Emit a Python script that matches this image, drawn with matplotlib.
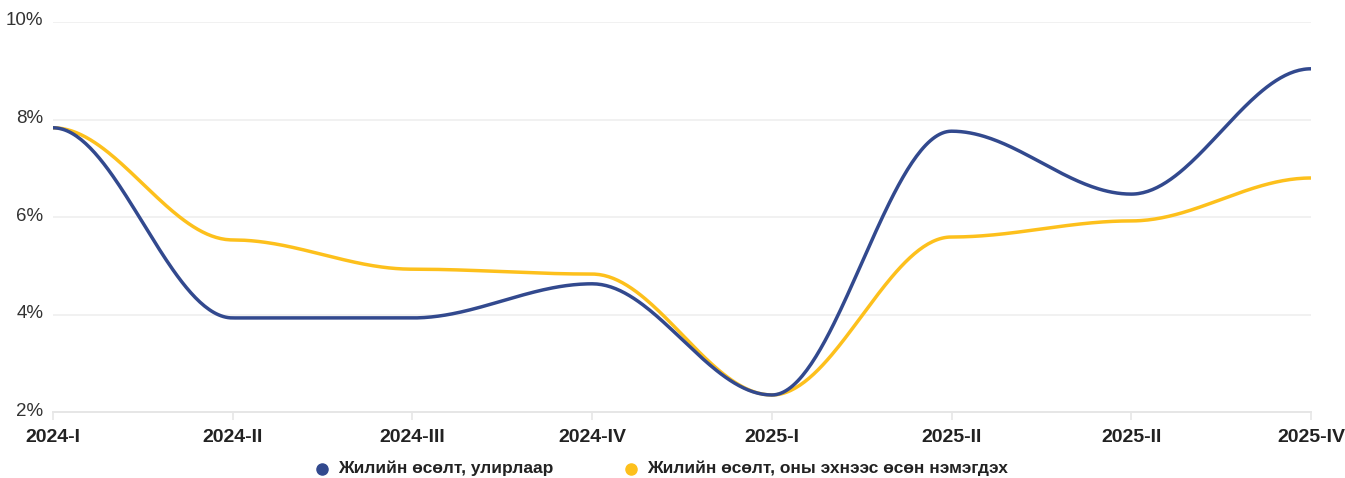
import numpy as np
import matplotlib
matplotlib.use("Agg")
import matplotlib.pyplot as plt
import matplotlib.transforms as mtransforms
from matplotlib.lines import Line2D

# Quarterly data
quarters = ["2024-I", "2024-II", "2024-III", "2024-IV",
            "2025-I", "2025-II", "2025-II", "2025-IV"]
growth_quarterly = [7.83, 3.93, 3.93, 4.63, 2.35, 7.76, 6.47, 9.04]
growth_ytd = [7.83, 5.53, 4.93, 4.83, 2.35, 5.59, 5.92, 6.80]
series_names = ["Жилийн өсөлт, улирлаар",
                "Жилийн өсөлт, оны эхнээс өсөн нэмэгдэх"]
y_ticks = [2, 4, 6, 8, 10]

BLUE = "#32498e"
YELLOW = "#fdc01c"
FONT = ["Liberation Sans", "DejaVu Sans"]


def smooth_path(xs, ys, n=80, k=0.35):
    """Bezier segments with horizontal tangents at every data point."""
    xs = np.asarray(xs, float)
    ys = np.asarray(ys, float)
    t = np.linspace(0, 1, n)[:, None]
    pts = []
    for i in range(len(xs) - 1):
        dx = xs[i + 1] - xs[i]
        p0 = np.array([xs[i], ys[i]])
        p1 = np.array([xs[i] + k * dx, ys[i]])
        p2 = np.array([xs[i + 1] - k * dx, ys[i + 1]])
        p3 = np.array([xs[i + 1], ys[i + 1]])
        seg = ((1 - t) ** 3) * p0 + 3 * ((1 - t) ** 2) * t * p1 \
            + 3 * (1 - t) * t ** 2 * p2 + t ** 3 * p3
        pts.append(seg if i == 0 else seg[1:])
    pts = np.vstack(pts)
    return pts[:, 0], pts[:, 1]


fig = plt.figure(figsize=(13.45, 4.78), dpi=100)
ax = fig.add_axes([0.0394, 0.138, 0.9353, 0.816])

x = np.arange(len(quarters))
for vals, col, z in [(growth_ytd, YELLOW, 3), (growth_quarterly, BLUE, 4)]:
    sx, sy = smooth_path(x, vals)
    ax.plot(sx, sy, color=col, lw=2.5, solid_capstyle="round", zorder=z)

ax.set_xlim(0, len(quarters) - 1)
ax.set_ylim(2, 10)
ax.set_yticks(y_ticks)
ax.set_yticklabels([f"{v}%" for v in y_ticks])
ax.set_xticks(x)
ax.set_xticklabels(quarters)

ax.grid(axis="y", color="#efefef", lw=1.2)
ax.set_axisbelow(True)
for s in ["top", "right", "left"]:
    ax.spines[s].set_visible(False)
ax.spines["bottom"].set_color("#e6e6e6")
ax.spines["bottom"].set_linewidth(1.4)

ax.tick_params(axis="y", length=0, pad=7, labelsize=13.5, labelcolor="#333333")
ax.tick_params(axis="x", length=6, width=1.2, color="#e6e6e6", pad=6,
               labelsize=14, labelcolor="#222222")
lift = mtransforms.ScaledTranslation(0, 3 / 100, fig.dpi_scale_trans)
for lab in ax.get_yticklabels():
    lab.set_fontfamily(FONT)
    lab.set_transform(lab.get_transform() + lift)
for lab in ax.get_xticklabels():
    lab.set_fontfamily(FONT)
    lab.set_fontweight("bold")

# Legend drawn along the bottom edge
W, H = 1345.0, 478.0
leg_y = 1 - 468.5 / H
for col, dot_x, text_x, name in [(BLUE, 322, 338, series_names[0]),
                                 (YELLOW, 631, 647, series_names[1])]:
    fig.add_artist(Line2D([dot_x / W], [leg_y], marker="o", linestyle="",
                          color=col, markersize=8, transform=fig.transFigure))
    fig.text(text_x / W, leg_y, name, ha="left", va="center",
             fontsize=12.5, fontweight="bold", color="#222222",
             family=FONT)

fig.savefig("out.png", dpi=100)
